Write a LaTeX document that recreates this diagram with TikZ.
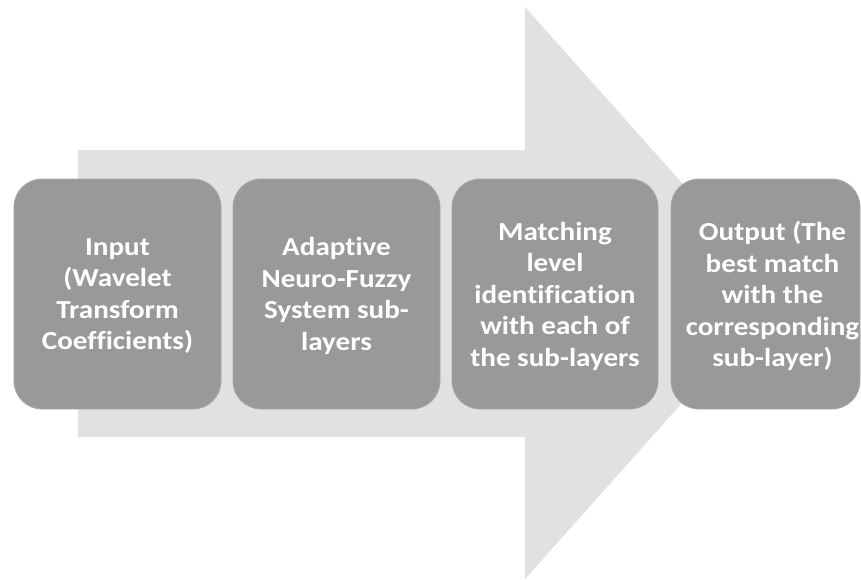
\documentclass[tikz,border=0pt]{standalone}
\usepackage{fontspec}
\setmainfont{Carlito}[RawFeature=-liga, FakeStretch=1.12]
\begin{document}
\begin{tikzpicture}[x=1pt,y=-1pt,
  stepbox/.style={fill=boxgray, draw=boxedge, line width=0.8pt, rounded corners=28pt,
    minimum height=230pt, inner sep=0pt},
  txt/.style={text=white, font=\bfseries\fontsize{26}{31.5}\selectfont, align=center}]
\definecolor{arrowgray}{HTML}{E1E1E1}
\definecolor{boxgray}{HTML}{999999}
\definecolor{boxedge}{HTML}{A8A8A8}
\useasboundingbox (0,0) rectangle (861,579);
\fill[white] (0,0) rectangle (861,579);
\fill[arrowgray] (78,150) -- (525,150) -- (525,7) -- (780,293) -- (525,579) -- (525,437) -- (78,437) -- cycle;
\node[stepbox, minimum width=207pt] (in) at (117.5,294) {};
\node[stepbox, minimum width=207pt] (anfis) at (336.5,294) {};
\node[stepbox, minimum width=206pt] (match) at (555,294) {};
\node[stepbox, minimum width=189pt] (out) at (765.5,294) {};
\node[txt] (tin) at ([yshift=-2pt]in.center) {Input\\(Wavelet\\Transform\\Coefficients)};
\node[txt] (tanfis) at ([yshift=-2pt]anfis.center) {Adaptive\\Neuro-Fuzzy\\System sub-\\layers};
\node[txt] (tmatch) at ([yshift=-2pt]match.center) {Matching\\level\\identification\\with each of\\the sub-layers};
\node[txt] (tout) at ([xshift=7pt,yshift=-2pt]out.center) {Output (The\\best match\\with the\\corresponding\\sub-layer)};
\end{tikzpicture}
\end{document}
